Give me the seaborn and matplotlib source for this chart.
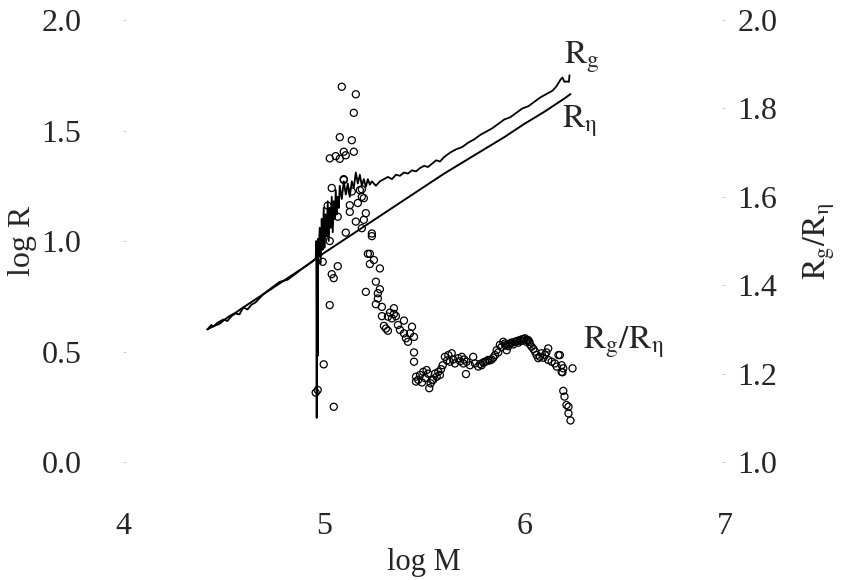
import seaborn as sns
import matplotlib.pyplot as plt
import pandas as pd
import numpy as np

# --- data ---
# R_eta: smooth, nearly straight line (left axis, log R)
eta_logm = [4.42, 4.45, 4.48, 4.50, 4.53, 4.56, 4.60, 4.65, 4.70, 4.75, 4.80, 4.85, 4.90, 4.95,
            5.00, 5.10, 5.20, 5.30, 5.40, 5.50, 5.60, 5.70, 5.80, 5.90, 6.00, 6.10, 6.20, 6.23]
eta_logr = [0.600, 0.615, 0.625, 0.640, 0.660, 0.675, 0.700, 0.730, 0.760, 0.790, 0.820, 0.850,
            0.880, 0.912, 0.945, 1.005, 1.065, 1.125, 1.185, 1.245, 1.305, 1.360, 1.415, 1.470,
            1.530, 1.585, 1.645, 1.665]

# R_g: follows R_eta below log M = 5, jagged burst near 5, then rises
g_logm = [4.42, 4.44, 4.45, 4.47, 4.50, 4.52, 4.54, 4.56, 4.58, 4.60, 4.62, 4.64, 4.66, 4.70,
          4.74, 4.78, 4.82, 4.86, 4.90, 4.94, 4.960,
          4.963, 4.965, 4.967, 4.970, 4.972, 4.975, 4.980, 4.985, 4.990,
          4.995, 5.000, 5.005, 5.010, 5.015, 5.020, 5.025, 5.030, 5.035, 5.040, 5.045, 5.050,
          5.055, 5.060, 5.065, 5.070, 5.075, 5.080, 5.090, 5.100, 5.110, 5.120, 5.130, 5.140,
          5.150, 5.160, 5.170, 5.180, 5.190, 5.200, 5.210, 5.220, 5.230, 5.240, 5.260, 5.280,
          5.300, 5.320, 5.340, 5.360, 5.380, 5.400, 5.420, 5.440, 5.460, 5.480, 5.500, 5.520,
          5.540, 5.560, 5.580, 5.600, 5.630, 5.660, 5.690, 5.720, 5.750, 5.780, 5.810, 5.840,
          5.870, 5.900, 5.930, 5.960, 5.990, 6.020, 6.050, 6.080, 6.110, 6.140, 6.160, 6.180,
          6.190, 6.200, 6.210, 6.222, 6.225]
g_logr = [0.600, 0.620, 0.612, 0.630, 0.645, 0.638, 0.660, 0.672, 0.668, 0.700, 0.690, 0.712,
          0.722, 0.760,
          0.788, 0.815, 0.825, 0.852, 0.880, 0.905, 0.920,
          1.000, 0.200, 0.990, 0.480, 1.010, 0.930, 1.060, 0.900, 1.100,
          0.960, 1.150, 0.970, 1.120, 1.020, 1.180, 1.000, 1.150, 1.060, 1.200, 1.040, 1.180,
          1.100, 1.230, 1.120, 1.200, 1.150, 1.250, 1.190, 1.270, 1.210, 1.260, 1.200, 1.270,
          1.240, 1.310, 1.260, 1.300, 1.250, 1.280, 1.245, 1.280, 1.255, 1.270, 1.250, 1.270,
          1.280, 1.290, 1.280, 1.300, 1.295, 1.310, 1.305, 1.320, 1.315, 1.330, 1.340, 1.335,
          1.350, 1.365, 1.360, 1.380, 1.400, 1.415, 1.425, 1.445, 1.460, 1.480, 1.495, 1.510,
          1.530, 1.550, 1.560, 1.580, 1.600, 1.610, 1.630, 1.650, 1.665, 1.680, 1.700, 1.730,
          1.740, 1.720, 1.722, 1.720, 1.750]

# R_g / R_eta ratio points (right axis)
ratio_logm = [5.09, 5.16, 5.15, 5.08, 5.14, 5.03, 5.06, 5.08, 5.10, 5.11, 5.15, 5.10, 5.19, 5.19,
              5.10, 5.14, 5.18, 5.20, 5.13, 5.17, 5.13, 5.07, 5.21, 5.16, 5.20, 5.11, 5.19, 5.24,
              5.24, 5.01, 5.02, 5.04, 5.03,
              5.22, 5.23, 5.23, 5.25, 5.28, 5.07, 5.04, 5.05, 4.995, 5.26, 5.28, 5.27, 5.21,
              5.27, 5.26, 5.29, 5.03, 5.29, 5.33, 5.35, 5.36, 5.34, 5.32, 5.35, 5.30, 5.31,
              5.32, 5.37, 5.38, 5.40, 5.41, 5.42, 5.40, 5.44, 5.45, 5.43, 5.45, 5.45, 5.46,
              5.46, 5.00, 4.96, 4.97, 5.05,
              5.471, 5.480, 5.496, 5.513, 5.526, 5.533, 5.546, 5.563, 5.571, 5.579, 5.593,
              5.604, 5.621, 5.638, 5.629, 5.654, 5.671, 5.688, 5.696, 5.712, 5.709, 5.729,
              5.745, 5.754, 5.770, 5.787, 5.804, 5.820, 5.837, 5.854, 5.862, 5.878, 5.895,
              5.912, 5.928, 5.953, 5.978, 6.003, 6.019, 6.036, 6.053, 6.069, 6.086, 6.103,
              6.119, 6.119, 6.136, 6.152, 6.161, 6.177, 6.186, 6.194,
              5.780, 5.795, 5.812, 5.828, 5.845, 5.870, 5.886, 5.903, 5.920, 5.940, 5.965,
              5.990, 6.010, 6.028, 6.045, 6.061, 6.078, 6.095, 6.110,
              5.905, 5.918, 5.935, 5.945, 5.958, 5.970, 5.985, 5.998, 6.012, 6.025,
              5.490, 5.505, 5.520, 5.540, 5.555, 5.585, 5.615, 5.645, 5.680, 5.700,
              6.170, 6.186, 6.190, 6.240, 6.194, 6.200, 6.210, 6.220, 6.220, 6.230]
ratio_val = [1.849, 1.832, 1.790, 1.735, 1.728, 1.687, 1.692, 1.686, 1.702, 1.694, 1.702, 1.640,
             1.617, 1.600, 1.638, 1.612, 1.615, 1.597, 1.581, 1.586, 1.566, 1.555, 1.563, 1.544,
             1.548, 1.519, 1.529, 1.517, 1.511, 1.518, 1.580, 1.620, 1.500,
             1.471, 1.471, 1.448, 1.457, 1.438, 1.443, 1.425, 1.416, 1.453, 1.408, 1.391,
             1.382, 1.385, 1.370, 1.357, 1.351, 1.355, 1.330, 1.338, 1.335, 1.330, 1.325,
             1.329, 1.348, 1.308, 1.302, 1.297, 1.310, 1.299, 1.291, 1.280, 1.272, 1.320,
             1.306, 1.283, 1.291, 1.248, 1.227, 1.193, 1.182, 1.221, 1.157, 1.163, 1.125,
             1.186, 1.197, 1.204, 1.208, 1.167, 1.178, 1.186, 1.193, 1.204, 1.197, 1.219,
             1.238, 1.242, 1.246, 1.227, 1.223, 1.235, 1.238, 1.223, 1.227, 1.199, 1.219,
             1.238, 1.223, 1.216, 1.219, 1.227, 1.231, 1.232, 1.242, 1.253, 1.265, 1.272,
             1.253, 1.268, 1.272, 1.276, 1.280, 1.276, 1.261, 1.250, 1.235, 1.246, 1.242,
             1.257, 1.231, 1.227, 1.223, 1.216, 1.242, 1.204, 1.212,
             1.222, 1.225, 1.228, 1.230, 1.236, 1.248, 1.260, 1.268, 1.262, 1.270, 1.274,
             1.278, 1.272, 1.266, 1.256, 1.242, 1.238, 1.236, 1.248,
             1.264, 1.266, 1.270, 1.266, 1.272, 1.270, 1.274, 1.278, 1.276, 1.272,
             1.180, 1.190, 1.200, 1.185, 1.200, 1.210, 1.230, 1.232, 1.228, 1.232,
             1.242, 1.219, 1.203, 1.212, 1.161, 1.148, 1.129, 1.125, 1.110, 1.094]

eta_df = pd.DataFrame({"logM": eta_logm, "logR": eta_logr})
g_df = pd.DataFrame({"logM": g_logm, "logR": g_logr})
ratio_df = pd.DataFrame({"logM": ratio_logm, "ratio": ratio_val})

# --- style ---
sns.set_theme(style="white")
plt.rcParams["font.family"] = ["Liberation Serif", "DejaVu Serif"]
plt.rcParams["mathtext.fontset"] = "stix"

fig = plt.figure(figsize=(8.43, 5.8), dpi=100)
ax = fig.add_axes([0.146, 0.2034, 0.714, 0.7621])
ax2 = ax.twinx()

sns.lineplot(data=eta_df, x="logM", y="logR", ax=ax, color="black", lw=1.4,
             estimator=None, sort=False)
sns.lineplot(data=g_df, x="logM", y="logR", ax=ax, color="black", lw=1.3,
             estimator=None, sort=False)
sns.scatterplot(data=ratio_df, x="logM", y="ratio", ax=ax2, marker="o", s=26,
                facecolors="none", edgecolor="black", linewidth=0.9)

ax.set_xlim(4, 7)
ax.set_ylim(0, 2)
ax2.set_ylim(1, 2)
ax.set_xticks([4, 5, 6, 7])
ax.set_yticks([0.0, 0.5, 1.0, 1.5, 2.0])
ax.set_yticklabels(["0.0", "0.5", "1.0", "1.5", "2.0"])
ax2.set_yticks([1.0, 1.2, 1.4, 1.6, 1.8, 2.0])
ax2.set_yticklabels(["1.0", "1.2", "1.4", "1.6", "1.8", "2.0"])

# no frame, only faint tick dots
for a in (ax, ax2):
    for s in a.spines.values():
        s.set_visible(False)
ax.tick_params(axis="x", direction="in", length=2, width=0.5, color="#bbbbbb",
               labelsize=23, pad=36)
ax.tick_params(axis="y", direction="in", length=2, width=0.5, color="#bbbbbb",
               labelsize=23, pad=30)
ax2.tick_params(axis="y", direction="in", length=2, width=0.5, color="#bbbbbb",
                labelsize=23, pad=9)

ax.set_xlabel("log M", fontsize=22, labelpad=5)
ax.set_ylabel("log R", fontsize=23, labelpad=3)
ax2.set_ylabel(r"$\mathrm{R_g/R_{η}}$", fontsize=23, labelpad=17, rotation=90)

ax.text(6.20, 1.83, r"$\mathrm{R_g}$", fontsize=24, va="center", ha="left")
ax.text(6.19, 1.54, r"$\mathrm{R_{η}}$", fontsize=24, va="center", ha="left")
ax.text(6.29, 0.54, r"$\mathrm{R_g/R_{η}}$", fontsize=24, va="center", ha="left")

fig.savefig("out.png", dpi=100)
